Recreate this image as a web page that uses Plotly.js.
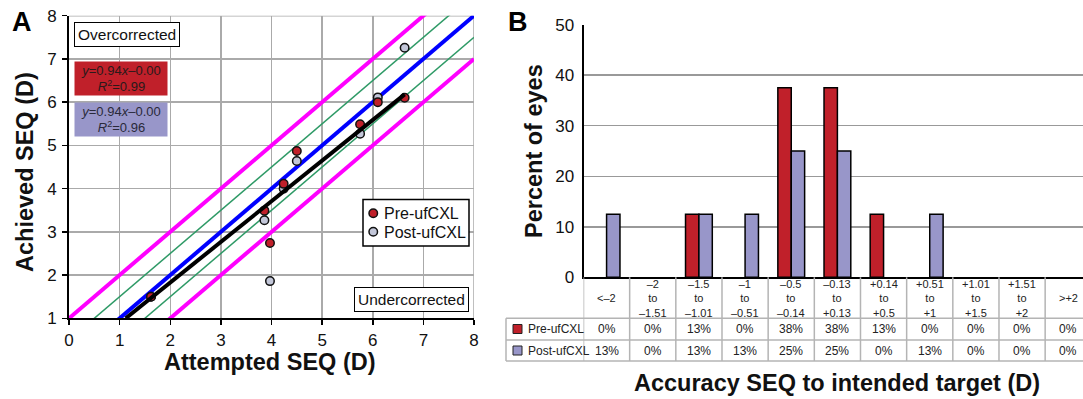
<!DOCTYPE html>
<html><head><meta charset="utf-8">
<script src="https://cdn.plot.ly/plotly-3.0.1.min.js"></script>
<style>html,body{margin:0;padding:0;background:#fff}#g{width:1083px;height:399px}</style>
</head><body><div id="g"></div>
<script>
// ---- Panel A data ----
var preX  = [1.62, 3.86, 3.97, 4.24, 4.50, 5.75, 6.10, 6.63];
var preY  = [1.50, 3.49, 2.74, 4.11, 4.87, 5.49, 6.00, 6.10];
var postX = [1.62, 3.86, 3.97, 4.24, 4.50, 5.75, 6.10, 6.63];
var postY = [1.50, 3.27, 1.86, 4.00, 4.64, 5.27, 6.11, 7.26];
var fitX = [1.12, 6.63];
var fitY = [1.00, 6.18];
var refOffsets = [-1, -0.5, 0, 0.5, 1];
var refColors  = ['#ff00ff', '#2e9a66', '#0000ff', '#2e9a66', '#ff00ff'];
var refWidths  = [4, 1.5, 4, 1.5, 4];
var axisMinMax = [0, 8];

// ---- Panel B data ----
var categories = ['<–2', '–2<br>to<br>–1.51', '–1.5<br>to<br>–1.01', '–1<br>to<br>–0.51', '–0.5<br>to<br>–0.14',
  '–0.13<br>to<br>+0.13', '+0.14<br>to<br>+0.5', '+0.51<br>to<br>+1', '+1.01<br>to<br>+1.5', '+1.51<br>to<br>+2', '>+2'];
var preVals  = [0, 0, 12.5, 0, 37.5, 37.5, 12.5, 0, 0, 0, 0];
var postVals = [12.5, 0, 12.5, 12.5, 25, 25, 0, 12.5, 0, 0, 0];
var preLabels  = ['0%','0%','13%','0%','38%','38%','13%','0%','0%','0%','0%'];
var postLabels = ['13%','0%','13%','13%','25%','25%','0%','13%','0%','0%','0%'];
var seriesNames = ['Pre-ufCXL', 'Post-ufCXL'];

var RED = '#c0202a', PURP = '#9896c9', GREYPT = '#c3c7d9';
var FONT = 'Liberation Sans, Arial, Helvetica, sans-serif';
var W = 1083, H = 399;
function px(x){return x/W;} function py(y){return 1-y/H;}
function hideZero(v){return v===0?null:v;}

var traces = [];
refOffsets.forEach(function(o,i){
  traces.push({x:[axisMinMax[0], axisMinMax[1]], y:[axisMinMax[0]+o, axisMinMax[1]+o], mode:'lines',
    line:{color:refColors[i], width:refWidths[i]}, xaxis:'x', yaxis:'y', showlegend:false, hoverinfo:'skip'});
});
traces.push({x:postX, y:postY, mode:'markers', name:seriesNames[1], xaxis:'x', yaxis:'y', showlegend:false,
  marker:{size:8.5, color:GREYPT, line:{color:'#111', width:1.5}}});
traces.push({x:preX, y:preY, mode:'markers', name:seriesNames[0], xaxis:'x', yaxis:'y', showlegend:false,
  marker:{size:8.5, color:RED, line:{color:'#111', width:1.5}}});
traces.push({x:fitX, y:fitY, mode:'lines', line:{color:'#000', width:4}, xaxis:'x', yaxis:'y', showlegend:false});

var catIdx = categories.map(function(c,i){return i;});
traces.push({type:'bar', x:catIdx, y:preVals.map(hideZero), name:seriesNames[0], xaxis:'x2', yaxis:'y2', showlegend:false,
  marker:{color:RED, line:{color:'#000', width:1.5}}});
traces.push({type:'bar', x:catIdx, y:postVals.map(hideZero), name:seriesNames[1], xaxis:'x2', yaxis:'y2', showlegend:false,
  marker:{color:PURP, line:{color:'#000', width:1.5}}});

// table geometry (paper)
var tTop = py(277.3), r1 = py(318.3), r2 = py(340), r3 = py(361);
var tLeft = px(506);
var LG = '#b4b4b4';
var shapes = [];
for (var i=0;i<=categories.length;i++){
  shapes.push({type:'line', xref:'x2', yref:'paper', x0:i-0.5, x1:i-0.5, y0:tTop, y1:r3, line:{color:LG, width:1.5}});
}
shapes.push({type:'line', xref:'paper', yref:'paper', x0:tLeft, x1:tLeft, y0:r1, y1:r3, line:{color:LG, width:1.5}});
[r1, r2, r3].forEach(function(y){
  shapes.push({type:'line', xref:'paper', yref:'paper', x0:tLeft, x1:1, y0:y, y1:y, line:{color:LG, width:1.5}});
});
// legend keys in table
shapes.push({type:'rect', xref:'paper', yref:'paper', x0:px(513), x1:px(522), y0:py(333.5), y1:py(324.5), fillcolor:RED, line:{color:'#222', width:1}});
shapes.push({type:'rect', xref:'paper', yref:'paper', x0:px(513), x1:px(522), y0:py(355), y1:py(346), fillcolor:PURP, line:{color:'#222', width:1}});
// left plot gray border top/right
shapes.push({type:'line', xref:'x', yref:'y', x0:0, x1:8, y0:8, y1:8, line:{color:'#aaa', width:1.5}, layer:'below'});
shapes.push({type:'line', xref:'x', yref:'y', x0:8, x1:8, y0:1, y1:8, line:{color:'#aaa', width:1.5}, layer:'below'});
// panel A legend box (manual)
shapes.push({type:'rect', xref:'paper', yref:'paper', x0:px(363), x1:px(469), y0:py(246), y1:py(199.5), fillcolor:'#fff', line:{color:'#000', width:1.5}});
shapes.push({type:'circle', xref:'paper', yref:'paper', x0:px(369), x1:px(377.5), y0:py(217.5), y1:py(209), fillcolor:RED, line:{color:'#111', width:1.5}});
shapes.push({type:'circle', xref:'paper', yref:'paper', x0:px(369), x1:px(377.5), y0:py(236), y1:py(227.5), fillcolor:GREYPT, line:{color:'#111', width:1.5}});

var ann = [];
function A(o){ann.push(Object.assign({showarrow:false, xref:'paper', yref:'paper', xanchor:'center', yanchor:'middle',
  font:{family:FONT, size:14, color:'#111'}}, o));}
categories.forEach(function(c,i){
  A({xref:'x2', x:i, y:py(298), text:c, font:{family:FONT, size:11, color:'#222'}});
  A({xref:'x2', x:i, y:py(329), text:preLabels[i], font:{family:FONT, size:12, color:'#222'}});
  A({xref:'x2', x:i, y:py(350.5), text:postLabels[i], font:{family:FONT, size:12, color:'#222'}});
});
A({x:px(526), y:py(329), text:seriesNames[0], font:{family:FONT, size:12, color:'#222'}, xanchor:'left'});
A({x:px(526), y:py(350.5), text:seriesNames[1], font:{family:FONT, size:12, color:'#222'}, xanchor:'left'});
A({x:px(382), y:py(213.5), text:seriesNames[0], font:{family:FONT, size:16, color:'#111'}, xanchor:'left'});
A({x:px(382), y:py(232), text:seriesNames[1], font:{family:FONT, size:16, color:'#111'}, xanchor:'left'});

A({x:px(127), y:py(34.2), text:'Overcorrected', font:{family:FONT, size:15.5, color:'#111'}, bordercolor:'#000', borderwidth:1, bgcolor:'#fff', borderpad:3});
A({x:px(411), y:py(299), text:'Undercorrected', font:{family:FONT, size:15.5, color:'#111'}, bordercolor:'#000', borderwidth:1, bgcolor:'#fff', borderpad:3});
A({x:px(121), y:py(78.5), text:'<i>y</i>=0.94<i>x</i>–0.00<br><i>R</i><sup>2</sup>=0.99', font:{family:FONT, size:13, color:'#2a1a1a'}, bgcolor:RED, width:90, height:31, borderpad:1, align:'center'});
A({x:px(121), y:py(119.5), text:'<i>y</i>=0.94<i>x</i>–0.00<br><i>R</i><sup>2</sup>=0.96', font:{family:FONT, size:13, color:'#2a2a3a'}, bgcolor:PURP, width:90, height:31, borderpad:1, align:'center'});

A({x:px(22), y:py(22), text:'<b>A</b>', font:{family:FONT, size:27, color:'#000'}});
A({x:px(518), y:py(22), text:'<b>B</b>', font:{family:FONT, size:27, color:'#000'}});
A({x:px(270), y:py(362), text:'<b>Attempted SEQ (D)</b>', font:{family:FONT, size:23.5, color:'#111'}});
A({x:px(25), y:py(172), text:'<b>Achieved SEQ (D)</b>', textangle:-90, font:{family:FONT, size:23.5, color:'#111'}});
A({x:px(534), y:py(151), text:'<b>Percent of eyes</b>', textangle:-90, font:{family:FONT, size:23.5, color:'#111'}});
A({x:px(837), y:py(383), text:'<b>Accuracy SEQ to intended target (D)</b>', font:{family:FONT, size:23.5, color:'#111'}});

var layout = {
  width:W, height:H, margin:{l:0, r:0, t:0, b:0}, paper_bgcolor:'#fff', plot_bgcolor:'#fff',
  font:{family:FONT, color:'#111'}, showlegend:false,
  xaxis:{domain:[px(69), px(474)], range:[0,8], dtick:1, showgrid:true, gridcolor:'#aaa', gridwidth:1.5, zeroline:false,
    showline:true, linecolor:'#000', linewidth:2, ticks:'outside', ticklen:5, tickcolor:'#000', tickwidth:1.5,
    tickfont:{family:FONT, size:17, color:'#111'}, anchor:'y', fixedrange:true},
  yaxis:{domain:[py(318.3), py(15.7)], range:[1,8], dtick:1, showgrid:true, gridcolor:'#aaa', gridwidth:1.5, zeroline:false,
    showline:true, linecolor:'#000', linewidth:2, ticks:'outside', ticklen:5, tickcolor:'#000', tickwidth:1.5,
    tickfont:{family:FONT, size:17, color:'#111'}, anchor:'x', fixedrange:true, ticklabelstandoff:2},
  xaxis2:{domain:[px(583.5), 1], range:[-0.5, 10.32], showgrid:false, zeroline:false, showticklabels:false,
    showline:true, linecolor:'#000', linewidth:2, ticks:'', anchor:'y2', fixedrange:true},
  yaxis2:{domain:[py(277.3), py(24.7)], range:[0,50], dtick:10, showgrid:true, gridcolor:'#999', gridwidth:1.5, zeroline:false,
    showline:true, linecolor:'#000', linewidth:2, ticks:'', ticklabelstandoff:4,
    tickfont:{family:FONT, size:17, color:'#111'}, anchor:'x2', fixedrange:true},
  barmode:'group', bargap:0.42, bargroupgap:0,
  shapes:shapes, annotations:ann
};
Plotly.newPlot('g', traces, layout, {staticPlot:true, displayModeBar:false});
</script></body></html>
